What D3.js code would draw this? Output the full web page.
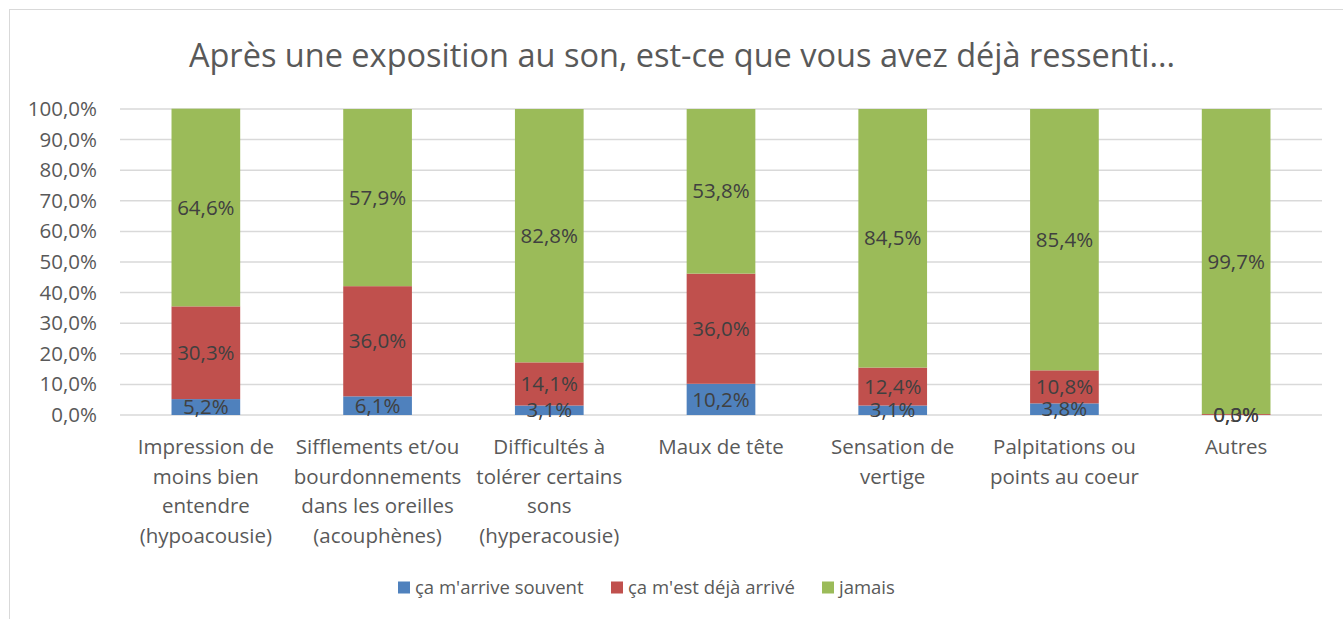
<!DOCTYPE html>
<html>
<head>
<meta charset="utf-8">
<script src="https://d3js.org/d3.v7.min.js"></script>
<style>
  body { margin: 0; background: #fff; }
  text { font-family: "Open Sans", "Liberation Sans", sans-serif; }
</style>
</head>
<body>
<div id="chart-area"></div>
<script>
var categories = ["c1", "c2", "c3", "c4", "c5", "c6", "c7"];
var categoryLines = [
	["Impression de", "moins bien", "entendre", "(hypoacousie)"],
	["Sifflements et/ou", "bourdonnements", "dans les oreilles", "(acouphènes)"],
	["Difficultés à", "tolérer certains", "sons", "(hyperacousie)"],
	["Maux de tête"],
	["Sensation de", "vertige"],
	["Palpitations ou", "points au coeur"],
	["Autres"]
];
var seriesNames = ["ça m'arrive souvent", "ça m'est déjà arrivé", "jamais"];
var souvent = [5.2, 6.1, 3.1, 10.2, 3.1, 3.8, 0.0];
var dejaArrive = [30.3, 36.0, 14.1, 36.0, 12.4, 10.8, 0.3];
var jamais = [64.6, 57.9, 82.8, 53.8, 84.5, 85.4, 99.7];
var yTicks = [0, 10, 20, 30, 40, 50, 60, 70, 80, 90, 100];
var colors = ["#4f81bd", "#c0504d", "#9bbb59"];

var width = 1343, height = 619;
var margin = {top: 109, right: 21, bottom: 204, left: 120};
var innerW = width - margin.left - margin.right;
var innerH = height - margin.top - margin.bottom;

var svg = d3.select("#chart-area").append("svg")
	.attr("width", width)
	.attr("height", height);

// chart border
svg.append("rect")
	.attr("x", 9.5).attr("y", 9.5)
	.attr("width", width + 10).attr("height", height + 10)
	.attr("fill", "none")
	.attr("stroke", "#d9d9d9");

svg.append("text")
	.attr("x", 682)
	.attr("y", 67)
	.attr("text-anchor", "middle")
	.attr("font-size", "32.5px")
	.style("fill", "#595959")
	.text("Après une exposition au son, est-ce que vous avez déjà ressenti...");

var g = svg.append("g")
	.attr("transform", "translate(" + margin.left + ", " + margin.top + ")");

var x = d3.scaleBand()
	.domain(categories)
	.range([0, innerW])
	.paddingInner(0.6)
	.paddingOuter(0.3);

var y = d3.scaleLinear()
	.domain([0, 100])
	.range([innerH, 0]);

// gridlines
g.selectAll(".grid")
	.data(yTicks)
	.enter()
	.append("line")
		.attr("class", "grid")
		.attr("x1", 0).attr("x2", innerW)
		.attr("y1", d => y(d)).attr("y2", d => y(d))
		.attr("stroke", "#d9d9d9")
		.attr("stroke-width", 1.5);

var leftAxis = d3.axisLeft(y)
	.tickValues(yTicks)
	.tickSize(0)
	.tickPadding(23)
	.tickFormat(d => d3.format(".1f")(d).replace(".", ",") + "%");
g.append("g")
	.attr("class", "leftAxis")
	.call(leftAxis)
	.call(a => a.select(".domain").remove())
	.selectAll("text")
		.attr("font-size", "20.5px")
		.style("fill", "#595959");

var rows = categories.map((c, i) => ({cat: c, s0: souvent[i], s1: dejaArrive[i], s2: jamais[i]}));
var stack = d3.stack().keys(["s0", "s1", "s2"]);
var layers = stack(rows);

var layerG = g.selectAll(".layer")
	.data(layers)
	.enter()
	.append("g")
		.attr("class", "layer")
		.attr("fill", (d, i) => colors[i]);

layerG.selectAll("rect")
	.data(d => d)
	.enter()
	.append("rect")
		.attr("x", d => x(d.data.cat))
		.attr("y", d => y(d[1]))
		.attr("width", x.bandwidth())
		.attr("height", d => y(d[0]) - y(d[1]));

// data labels
layers.forEach((layer) => {
	g.selectAll(null)
		.data(layer)
		.enter()
		.append("text")
			.attr("x", d => x(d.data.cat) + x.bandwidth() / 2)
			.attr("y", d => (y(d[0]) + y(d[1])) / 2)
			.attr("dy", "0.35em")
			.attr("text-anchor", "middle")
			.attr("font-size", "20.5px")
			.style("fill", "#404040")
			.text(d => d3.format(".1f")(d[1] - d[0]).replace(".", ",") + "%");
});

// category labels
var bottomAxis = d3.axisBottom(x).tickSize(0).tickFormat("");
var xAxisG = g.append("g")
	.attr("class", "bottomAxis")
	.attr("transform", "translate(0, " + innerH + ")")
	.call(bottomAxis);
xAxisG.select(".domain").remove();
xAxisG.selectAll(".tick").each(function(d, i) {
	var t = d3.select(this).append("text")
		.attr("text-anchor", "middle")
		.attr("font-size", "20.5px")
		.style("fill", "#595959");
	categoryLines[i].forEach((line, k) => {
		t.append("tspan")
			.attr("x", 0)
			.attr("y", 39 + k * 29.5)
			.text(line);
	});
});

// legend
var legendX = [398, 611, 822];
var legend = svg.selectAll(".legend")
	.data(seriesNames)
	.enter()
	.append("g")
		.attr("class", "legend")
		.attr("transform", (d, i) => "translate(" + legendX[i] + ", 588)");
legend.append("rect")
	.attr("x", 0).attr("y", -6.5)
	.attr("width", 12).attr("height", 12)
	.attr("fill", (d, i) => colors[i]);
legend.append("text")
	.attr("x", 17)
	.attr("dy", "0.35em")
	.attr("font-size", "18.5px")
	.style("fill", "#595959")
	.text(d => d);
</script>
</body>
</html>
